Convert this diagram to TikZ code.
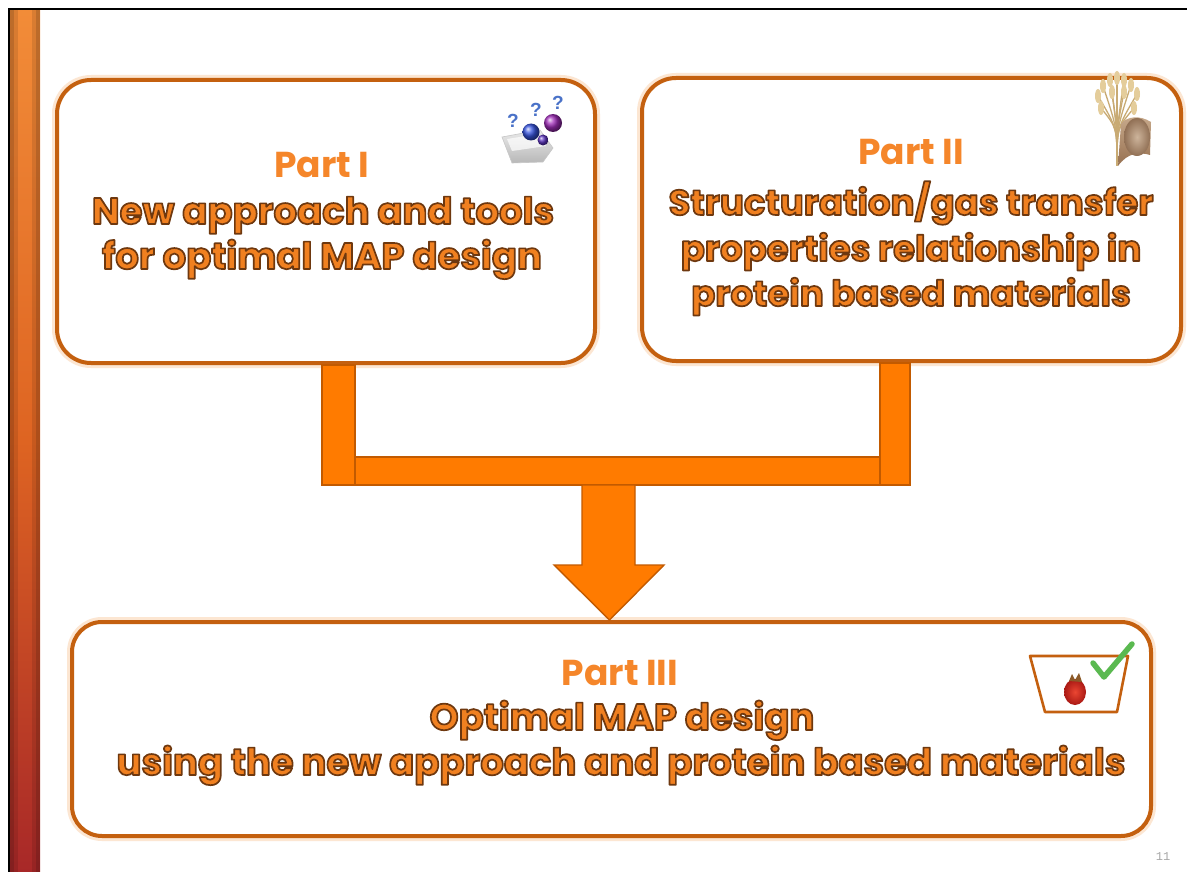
\documentclass[tikz,border=0pt]{standalone}
\usepackage{fontspec}
\setmainfont{Poppins}
\setsansfont{Liberation Sans}
\setmonofont{Liberation Mono}
\usetikzlibrary{calc}

\definecolor{boxline}{HTML}{C4600F}
\definecolor{glow}{HTML}{FCE6D2}
\definecolor{barfill}{HTML}{FF7B00}
\definecolor{barline}{HTML}{C25A00}
\definecolor{headorange}{HTML}{F5862A}
\definecolor{bodyfill}{HTML}{F08020}
\definecolor{qblue}{HTML}{4A72C8}

% orange letters with a dark brown outline (fill + stroke text rendering)
\newcommand{\ringtext}[1]{\special{pdf:literal direct 1 j 2 Tr 1.7 w 0.43 0.22 0.06 RG}#1\special{pdf:literal direct 0 Tr}}

\tikzset{
  partbox/.style={draw=boxline, line width=4pt, rounded corners=34pt, fill=white,
    preaction={draw=glow, line width=10pt}},
  heading/.style={anchor=base, text=headorange, font=\fontsize{36}{40}\selectfont\bfseries},
  bodyline/.style={anchor=base, text=bodyfill, font=\fontsize{37}{40}\selectfont\bfseries},
  narrowline/.style={bodyline, font=\fontsize{35.5}{40}\selectfont\bfseries},
  bar/.style={fill=barfill, draw=barline, line width=1.4pt, line join=miter},
  qmark/.style={text=qblue, font=\sffamily\bfseries\fontsize{19}{19}\selectfont, inner sep=0pt},
}

\begin{document}
\begin{tikzpicture}[x=1pt,y=-1pt]
\useasboundingbox (0,0) rectangle (1187,872);
\fill[white] (0,0) rectangle (1187,872);

% side band: orange at the top running into dark red, darker at both edges
\shade[top color={rgb,255:red,242;green,140;blue,56}, bottom color={rgb,255:red,168;green,40;blue,40},
       middle color={rgb,255:red,222;green,100;blue,34}] (10,10) rectangle (40,872);
\fill[black, opacity=0.22] (10,10) rectangle (14,872);
\fill[black, opacity=0.10] (14,10) rectangle (18,872);
\fill[black, opacity=0.22] (36,10) rectangle (40,872);
\fill[black, opacity=0.10] (32,10) rectangle (36,872);

% frame
\draw[black, line width=2pt] (9,872) -- (9,9) -- (1187,9);

% boxes
\node[partbox, minimum width=538, minimum height=283] (p1) at (326,221.5) {};
\node[partbox, minimum width=539, minimum height=283] (p2) at (911.5,219.5) {};
\node[partbox, rounded corners=30pt, minimum width=1079, minimum height=214] (p3) at (611.5,729) {};

% connectors
\fill[bar] (322,457) rectangle (910,485);
\fill[bar] (p1.south -| 322,0) rectangle (355,485);
\fill[bar] (p2.south -| 880,0) rectangle (910,485);
\fill[bar] (582,485) -- (635,485) -- (635,565) -- (664,565) -- (p3.north -| 609.5,0) -- (554,565) -- (582,565) -- cycle;

% texts, part I
\node[heading] (h1) at (322,178) {Part I};
\node[bodyline] (a1) at (323,224) {\ringtext{New approach and tools}};
\node[bodyline] (a2) at (322,269) {\ringtext{for optimal MAP design}};

% texts, part II
\node[heading] (h2) at (911,165) {Part II};
\node[narrowline] (b1) at (911,215) {\ringtext{Structuration/gas transfer}};
\node[narrowline] (b2) at (911,261) {\ringtext{properties relationship in}};
\node[narrowline] (b3) at (911,306) {\ringtext{protein based materials}};

% texts, part III
\node[heading] (h3) at (620,685) {Part III};
\node[bodyline] (c1) at (622,730) {\ringtext{Optimal MAP design}};
\node[bodyline] (c2) at (621,775) {\ringtext{using the new approach and protein based materials}};

% page number
\node[anchor=base, text=black!35, font=\ttfamily\fontsize{12}{12}\selectfont] (pg) at (1163,860) {11};

% icon: tray with question marks
\shade[top color=black!8, bottom color=black!28, draw=black!22, line width=0.6pt]
  (502,137) -- (540,130) -- (553,148) -- (543,162) -- (512,163) -- cycle;
\fill[white, opacity=0.7] (507,139) -- (538,134) -- (546,146) -- (512,151) -- cycle;
\shade[ball color={rgb,255:red,55;green,85;blue,225}] (531,132) circle (8.5);
\shade[ball color={rgb,255:red,90;green,50;blue,190}] (543,140) circle (5.5);
\shade[ball color={rgb,255:red,160;green,45;blue,185}] (553,123) circle (9);
\node[qmark] (q1) at (513,121) {?};
\node[qmark] (q2) at (536,110) {?};
\node[qmark] (q3) at (558,103) {?};

% icon: wheat sheaf and paper roll
\begin{scope}[line cap=round]
  \foreach \tx/\ty in {1098/96,1103/86,1110/80,1117/78,1124/80,1131/85,1137/94,1101/108,1134/108,1112/92,1124/92}{
    \draw[color={rgb,255:red,200;green,170;blue,115}, line width=1.3pt] (1117,165) .. controls (1117,128) .. (\tx,\ty);
    \fill[color={rgb,255:red,228;green,205;blue,155}] (\tx,\ty) ellipse (3 and 7);
  }
\end{scope}
\shade[top color={rgb,255:red,200;green,170;blue,140}, bottom color={rgb,255:red,150;green,112;blue,80}]
  (1118,166) .. controls (1128,152) and (1140,152) .. (1150,155) -- (1151,122) .. controls (1140,115) and (1127,116) .. (1121,124) -- cycle;
\shade[inner color={rgb,255:red,205;green,180;blue,155}, outer color={rgb,255:red,145;green,112;blue,85}]
  (1137,137) ellipse (13 and 19);

% icon: basket with fruit and tick
\draw[boxline, line width=2.6pt, line join=round] (1030,656) -- (1128,656) -- (1117,712) -- (1045,712) -- cycle;
\shade[inner color={rgb,255:red,235;green,70;blue,50}, outer color={rgb,255:red,170;green,25;blue,20}] (1075,692) ellipse (11 and 13);
\fill[color={rgb,255:red,140;green,90;blue,40}] (1069,681) -- (1072,674) -- (1075,680) -- (1079,673) -- (1082,682) -- cycle;
\draw[color={rgb,255:red,90;green,185;blue,80}, line width=5.5pt, line cap=round, line join=round] (1093,663) -- (1104,677) -- (1132,644);
\end{tikzpicture}
\end{document}
